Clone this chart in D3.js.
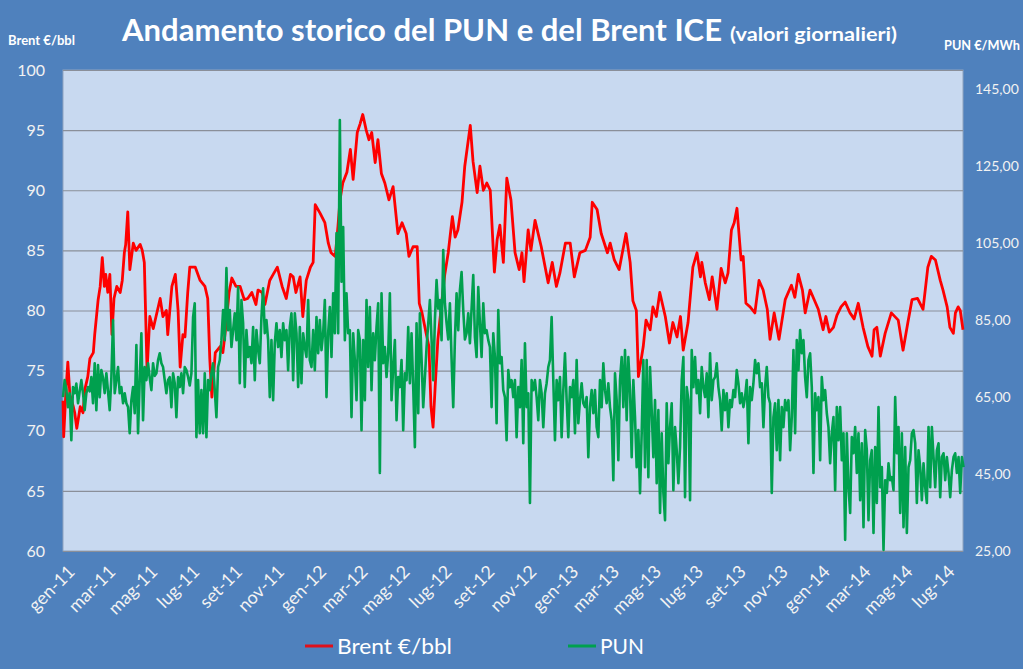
<!DOCTYPE html>
<html>
<head>
<meta charset="utf-8">
<script src="https://cdn.jsdelivr.net/npm/d3@7"></script>
<style>
  body { margin: 0; background: #4f81bd; }
  svg { display: block; font-family: Lato, "Open Sans", sans-serif; }
</style>
</head>
<body>
<svg id="chart" width="1023" height="669"></svg>
<script>
// Brent ICE (€/bbl): days since 1 Jan 2011 and value
const brentDays = [0,1,4,7,10,15,17,20,25,29,32,36,39,44,46,51,54,57,60,62,65,68,71,74,78,83,86,89,91,94,97,102,106,112,115,118,122,126,131,135,141,145,150,152,158,163,167,170,174,177,181,184,192,199,206,210,213,216,221,228,232,237,241,245,251,257,263,268,274,280,283,289,293,300,305,311,318,324,330,334,338,344,348,353,359,363,366,373,380,385,389,395,399,402,406,412,417,421,427,431,435,440,444,448,453,457,462,467,473,479,486,492,498,502,508,514,517,521,527,531,534,537,540,544,550,554,559,565,569,573,579,583,591,595,601,605,610,615,620,626,630,634,639,644,650,656,662,666,669,675,679,685,694,704,710,716,721,729,736,742,750,758,765,768,775,781,790,794,800,807,817,823,827,832,835,842,846,852,856,861,866,874,880,885,891,896,900,907,914,920,925,927,932,938,942,949,955,961,965,970,974,978,984,987,991,997,1004,1010,1016,1022,1026,1032,1039,1048,1057,1062,1067,1073,1077,1084,1096,1103,1107,1112,1118,1123,1129,1135,1142,1148,1154,1161,1168,1174,1177,1181,1186,1193,1202,1212,1219,1226,1232,1240,1248,1255,1260,1266,1273,1277,1283,1287,1292,1295,1299,1302,1306];
const brentValues = [72.5,69.5,73,75.7,73,72,71.5,70.2,72,71.5,73.5,74.5,76,76.5,78,80.9,82,84.4,82,83,81.5,83,78,81,82,81.5,82.5,84.8,85.5,88.2,83.4,85.6,85,85.5,85,84,75,79.5,78.5,79.5,81,79.5,80,78,82,83,80,75.3,78,77.8,81.5,83.6,83.6,82.5,82,81,76,72.8,76.5,77,76.5,79,81.5,82.7,82,82,80.9,81,81.5,80.5,81.7,81.5,80.5,82.5,83,83.6,82,81,83,82.8,81.5,82.8,79.5,82.5,83.6,84,88.8,88.1,87.3,85.6,84.8,84.5,87,89.2,90.6,91.5,93.4,90.9,94.8,95.5,96.3,95,94.2,94.8,92.3,94.2,91.4,90.6,89.2,90.3,86.4,87.3,86.4,84.5,85.3,85.3,80.6,79.8,78.1,77,72,70.3,73.6,77.6,80.9,83,84.8,87.8,86.1,86.7,89,92,95.4,92.4,89.8,92,90,90.6,90,83.2,85.9,87.1,84,91,89.2,84.8,83.4,84.8,82.4,86.7,85,87.5,85.3,82.3,84,82,83.1,85.6,85.6,82.8,84.8,85,86.1,89,88.4,86.4,84.8,85.6,84.2,83.4,86.4,84,80.8,80,74.5,77,79.2,78.4,80.3,79.5,81.5,79.5,77.3,79,77.8,79.5,76.7,79,83.6,84.8,82.8,84,82.3,80.9,82.8,80.1,83.5,82.3,83.1,86.7,87.3,88.5,84.2,84.5,80.6,80.3,79.8,82.5,81.7,80.1,77.6,79.8,77.6,80.9,82.1,81.1,83,81.7,79.8,81.7,80.1,78.4,79.5,78.2,78.6,79.6,80.3,80.7,79.8,79.3,80.6,78.6,77,76.2,78.4,78.6,76.2,78.1,79.8,79.2,76.7,79,80.9,81,80.1,83.6,84.5,84.2,82.5,81.7,80.3,78.6,78.1,79.8,80.3,80,78.4];

// PUN (€/MWh): readings taken every 2.42 days from 1 Jan 2011
const punStepDays = 2.42;
const punValues = [
  65,69.4,67,62.4,66,53.8,67.6,66,68.5,63.4,66.5,69.4,66,61.6,66,67.6,66.5,70.2,63.4,73.8,61.6,73.3,65,72,70,66,71.2,66.5,61.6,70,85,66,69.4,72.8,66,67.6,63.4,66,63.4,62.4,55.6,64.2,67.6,60.8,78.5,55.6,69.4,81.6,59,72.8,69.4,73.8,70,66.8,73.8,70.5,71.2,74.6,76.4,73.8,72.8,69.4,66,69.4,70.2,62.4,71.2,68.6,59.8,70.2,67.6,71.2,66,72.8,72,70.2,68,71.2,85.8,89.4,54.6,69.4,55.6,66.8,55.6,71.2,54.6,69.4,66.8,71.2,73.8,66.8,59.8,72.8,74.6,79.8,87.6,79.8,98.5,82.4,87.6,78,82.4,86.8,79.8,93.6,68.6,90.2,84.2,67.6,82.4,75.4,78,73.8,83.2,69.4,82.4,77.2,73.8,85.8,93.3,81.6,85,79.8,65,79.8,64.2,79,84.2,78,82.4,75.4,84.2,79.8,82.4,72,83.2,86.8,69.4,86.8,81.6,67.6,
  83.2,68.6,81.6,78,75.4,90.2,74.6,72.8,82.4,72,85.8,76.4,85,77.2,81.6,90.2,65,81.6,88.4,75.4,92,81.6,107.6,81.6,137,95,109.2,79.8,92,81.6,82.4,59.8,81.6,74.6,64.2,82.4,79.8,56.4,79.8,64.2,90.2,72.8,88.4,66.8,81.6,74.6,83.2,89.4,45.3,92,73.8,78,70.2,76.4,92,64.2,72.8,79.8,59,70.2,67.6,74.6,56.4,71.2,69.4,83.2,68.6,81.6,67.6,52,84.2,60.8,
  86.8,75,62.4,70,78,84,90.2,80,69.4,85,95.4,88,90.2,79.8,103.2,89.4,84.2,80,89.4,75,62.4,80,92,82.4,92.8,97.5,87.6,80,81.6,86.8,79,88,96.7,80.6,75.4,93.6,84.2,75.4,89.4,81.6,82.4,79.8,78,62.4,81.6,75.4,58.2,87.6,73.8,75.4,66.8,65,53.8,72,67.6,69.4,65,69.4,54.6,67.6,62.4,74.6,53,79,62.4,66,37.5,69.4,66.8,69.4,65,59,69.4,66,57.2,66,68.6,72.8,74.6,85.8,69.4,53.8,69.4,64.2,70.2,54.6,66.8,76.4,64.2,54.6,67.6,65,69.4,55.6,74.6,58.2,64.2,68.6,63.4,62.4,65,49.4,62.4,66.8,60.8,66.8,57.2,54.6,69.4,62.4,73.8,66.8,63.4,68.6,62.4,59,43.4,71.2,64.2,48.6,69.4,75.4,62.4,77.2,59,75.4,66.8,49.4,69.4,59.8,46.8,56.4,
  40,55.6,74.6,46.8,74.6,44.2,72.8,61.6,49.4,64.2,42.6,61.6,34.9,55.6,40.1,33,63.4,47.8,57.2,63.4,40.8,57.2,51.2,42.6,52,69.4,75.4,39,67.6,64.2,38.2,77.2,67.6,75.4,66,69.4,60.8,72.8,67.6,65,71.2,59.8,76.4,64.2,69.4,70.2,73.8,67.6,64.2,56.4,66.8,61.6,66,57.2,64.2,62.4,66.8,65,72,68.6,63.4,66,62.4,65,69.4,53,67.6,64.2,68.6,74.6,71.2,73.8,67.6,68.6,57.2,67.6,72.8,65,63.4,40.1,59.8,63.4,51.2,64.2,48.6,62.4,57.2,64.2,61.6,64.2,51.2,59.8,77.2,55.6,79.8,72,82.4,76.4,79.8,70.2,65,74.6,76.4,67.6,45.3,66,61.6,65,48.6,70.2,64.2,66.8,60.8,57.2,47.8,55.6,59.8,40.8,62.4,53.8,62.4,48.6,55.6,27.9,55.6,41.6,34.9,54.6,50.4,57.2,45.3,55.6,38.2,53,31.2,56.4,51.2,33,48.6,51.2,29.7,52,37.5,62.4,41.6,46.8,25.3,43.4,40.1,47.8,43.4,44.2,40.8,65,50.4,57.2,34.9,55.6,31.2,52,29.7,46.8,48.6,55.6,56.4,53,37.5,51.2,46.8,38.2,47.8,41.6,37.5,57.2,41.6,57.2,49.4,41.6,51.2,53,39,49.4,50.4,43.4,49.4,45.3,39,46,49.4,50.4,45.3,49.4,40.1,49.4,46.8
];

const brentTicks = [60, 65, 70, 75, 80, 85, 90, 95, 100];
const punTicks = [25, 45, 65, 85, 105, 125, 145];
const mesi = ["gen","feb","mar","apr","mag","giu","lug","ago","set","ott","nov","dic"];

const startDate = new Date(2011, 0, 1);
const endDate = d3.timeDay.offset(startDate, 1306);

const brent = brentDays.map((d, i) => ({ date: d3.timeDay.offset(startDate, d), value: brentValues[i] }));
const pun = punValues.map((v, i) => ({ date: new Date(startDate.getTime() + i * punStepDays * 864e5), value: v }));

const svg = d3.select("#chart");
const plot = { left: 63, right: 963, top: 70, bottom: 551 };

const x = d3.scaleTime().domain([startDate, endDate]).range([plot.left, plot.right]);
const yL = d3.scaleLinear().domain([60, 100]).range([plot.bottom, plot.top]);
const yR = d3.scaleLinear().domain([25, 150]).range([plot.bottom, plot.top]);

// plot background
svg.append("rect")
  .attr("x", plot.left).attr("y", plot.top)
  .attr("width", plot.right - plot.left).attr("height", plot.bottom - plot.top)
  .attr("fill", "#c8d9f0")
  .attr("stroke", "#8fa3bf").attr("stroke-width", 1);

// horizontal grid from the Brent axis
svg.append("g").selectAll("line")
  .data(brentTicks)
  .join("line")
    .attr("x1", plot.left).attr("x2", plot.right)
    .attr("y1", d => yL(d) + 0.5).attr("y2", d => yL(d) + 0.5)
    .attr("stroke", "#8a8f99").attr("stroke-width", 1.2);

// left axis
const axL = svg.append("g")
  .attr("transform", "translate(" + (plot.left - 1) + ",0)")
  .call(d3.axisLeft(yL).tickValues(brentTicks).tickSize(0).tickPadding(17));
axL.select(".domain").remove();
axL.selectAll("text").attr("fill", "#f2f2f2").style("font-size", "16px").style("font-family", "Lato, sans-serif");

// right axis
const fmtR = v => d3.format(".2f")(v).replace(".", ",");
const axR = svg.append("g")
  .attr("transform", "translate(" + plot.right + ",0)")
  .call(d3.axisRight(yR).tickValues(punTicks).tickSize(0).tickPadding(12).tickFormat(fmtR));
axR.select(".domain").remove();
axR.selectAll("text").attr("fill", "#f2f2f2").style("font-size", "14px").style("font-family", "Lato, sans-serif");

// x axis labels, one every two months
const months = d3.timeMonth.every(2).range(startDate, endDate);
svg.append("g").selectAll("text")
  .data(months)
  .join("text")
    .attr("transform", d => "translate(" + (x(d) + 4) + ",564)rotate(-45)")
    .attr("text-anchor", "end")
    .attr("dy", "0.7em")
    .attr("fill", "#f2f2f2")
    .style("font-size", "18px")
    .text(d => mesi[d.getMonth()] + "-" + String(d.getFullYear()).slice(2));

// series
const lineL = d3.line().x(d => x(d.date)).y(d => yL(d.value));
const lineR = d3.line().x(d => x(d.date)).y(d => yR(d.value));

svg.append("path")
  .datum(brent)
  .attr("d", lineL)
  .attr("fill", "none")
  .attr("stroke", "#ff0000")
  .attr("stroke-width", 2.8)
  .attr("stroke-linejoin", "round");

svg.append("path")
  .datum(pun)
  .attr("d", lineR)
  .attr("fill", "none")
  .attr("stroke", "#00a04e")
  .attr("stroke-width", 2.6)
  .attr("stroke-linejoin", "round");

// titles
svg.append("text")
  .attr("x", 122).attr("y", 41)
  .attr("fill", "#ffffff").attr("font-weight", "bold")
  .style("font-size", "30px")
  .attr("textLength", 600).attr("lengthAdjust", "spacingAndGlyphs")
  .text("Andamento storico del PUN e del Brent ICE");

svg.append("text")
  .attr("x", 730).attr("y", 41)
  .attr("fill", "#ffffff").attr("font-weight", "bold")
  .style("font-size", "19px")
  .attr("textLength", 167).attr("lengthAdjust", "spacingAndGlyphs")
  .text("(valori giornalieri)");

svg.append("text")
  .attr("x", 8).attr("y", 45)
  .attr("fill", "#ffffff").attr("font-weight", "bold")
  .style("font-size", "13px")
  .attr("textLength", 67).attr("lengthAdjust", "spacingAndGlyphs")
  .text("Brent €/bbl");

svg.append("text")
  .attr("x", 944).attr("y", 50)
  .attr("fill", "#ffffff").attr("font-weight", "bold")
  .style("font-size", "13px")
  .attr("textLength", 76).attr("lengthAdjust", "spacingAndGlyphs")
  .text("PUN €/MWh");

// legend
const legend = [
  { name: "Brent €/bbl", color: "#e0101a", x: 305, w: 115 },
  { name: "PUN", color: "#00a04e", x: 568, w: 44 }
];
const lg = svg.append("g").selectAll("g")
  .data(legend)
  .join("g")
    .attr("transform", d => "translate(" + d.x + ",646)");
lg.append("line")
  .attr("x1", 0).attr("x2", 28)
  .attr("stroke", d => d.color).attr("stroke-width", 3);
lg.append("text")
  .attr("x", 32).attr("dy", "0.35em")
  .attr("fill", "#ffffff")
  .style("font-size", "22px")
  .attr("textLength", d => d.w).attr("lengthAdjust", "spacingAndGlyphs")
  .text(d => d.name);
</script>
</body>
</html>
